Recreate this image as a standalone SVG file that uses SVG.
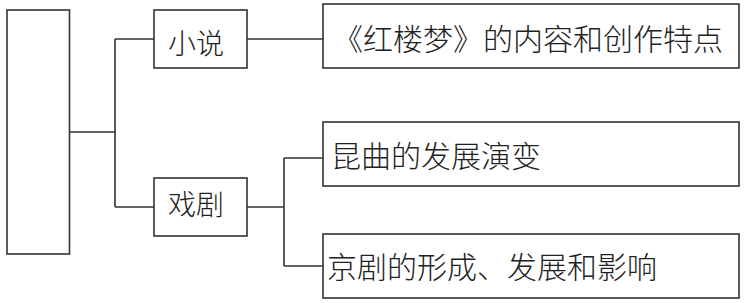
<svg xmlns="http://www.w3.org/2000/svg" width="747" height="303" viewBox="0 0 747 303">
<style>
.b{fill:#fff;stroke:#333;stroke-width:1.6}
.c{fill:none;stroke:#333;stroke-width:1.6}
text{font-family:"Noto Sans CJK SC","Noto Sans CJK TC",sans-serif;fill:#222;font-weight:300}
</style>
<rect width="747" height="303" fill="#fff"/>
<g id="connectors">
<path class="c" d="M69.5,132H115M115,39V207M115,39H154M115,207H154"/>
<path class="c" d="M247,39H323"/>
<path class="c" d="M247,207H284M284,158V266M284,158H323M284,266H323"/>
</g>
<g id="root"><rect class="b" x="7" y="10" width="62.5" height="244"/></g>
<g id="xiaoshuo"><rect class="b" x="154" y="10" width="93" height="58"/><text x="168" y="54" font-size="28">小说</text></g>
<g id="xiju"><rect class="b" x="154" y="178" width="93" height="58"/><text x="168" y="215" font-size="28">戏剧</text></g>
<g id="hongloumeng"><rect class="b" x="323" y="4" width="416" height="64"/><text x="333" y="49.5" font-size="30">《红楼梦》的内容和创作特点</text></g>
<g id="kunqu"><rect class="b" x="323" y="122" width="416" height="64"/><text x="331" y="167" font-size="30">昆曲的发展演变</text></g>
<g id="jingju"><rect class="b" x="323" y="234" width="416" height="64"/><text x="327" y="278" font-size="30">京剧的形成、发展和影响</text></g>
</svg>
